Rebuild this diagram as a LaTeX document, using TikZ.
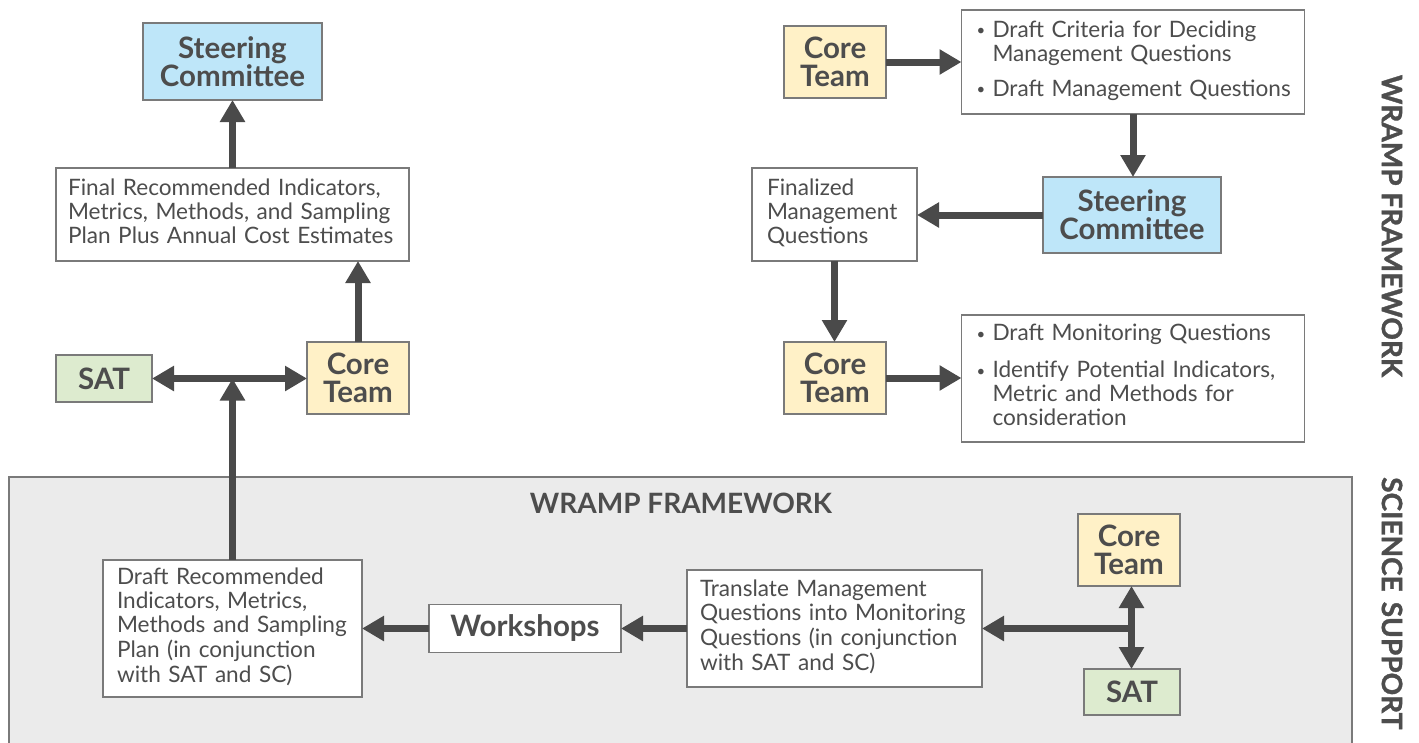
\documentclass[tikz,border=0pt]{standalone}
\usepackage{fontspec}
\setmainfont{Lato}
\usetikzlibrary{arrows.meta}
\definecolor{txt}{HTML}{4D4D4D}
\definecolor{arrc}{HTML}{4A4A4A}
\definecolor{bord}{HTML}{7A7A7A}
\definecolor{blu}{HTML}{BEE6F9}
\definecolor{yel}{HTML}{FFF1C7}
\definecolor{grn}{HTML}{DDEBCF}
\definecolor{bgg}{HTML}{EBEBEB}
\newcommand\tl[1]{\begin{tabular}{@{}l@{}}#1\end{tabular}}
\newcommand\bu{\makebox[17pt][l]{\hspace{1pt}\raisebox{1.5pt}{\fontsize{15}{15}\selectfont •}}}
\begin{document}
\begin{tikzpicture}[x=1pt,y=-1pt,
  font=\fontsize{22.6}{24}\selectfont, text=txt,
  box/.style={draw=bord, line width=1.2pt, fill=white, inner sep=0pt, outer sep=0pt},
  tbox/.style={box, align=left},
  who/.style={box, font=\bfseries\fontsize{29.5}{28}\selectfont, align=center},
  arr/.style={draw=arrc, line width=7pt, -{Triangle[length=22pt,width=24pt]}},
  dbl/.style={draw=arrc, line width=7pt, {Triangle[length=22pt,width=24pt]}-{Triangle[length=22pt,width=24pt]}},
  vlabel/.style={font=\bfseries\fontsize{28}{28}\selectfont\addfontfeature{FakeBold=1.2}, inner sep=0pt, rotate=-90}]
\useasboundingbox (0,0) rectangle (1419,742);
\fill[white] (0,0) rectangle (1419,742);

% science support region
\node[draw=bord, line width=1.2pt, fill=bgg, inner sep=0pt, outer sep=0pt,
      minimum width=1343pt, minimum height=290pt, anchor=north west] (ss) at (9,477) {};
\node[font=\bfseries\fontsize{28}{28}\selectfont, anchor=base, inner sep=0pt] (wt) at (681,513) {WRAMP FRAMEWORK};

% left column
\node[who, fill=blu, minimum width=179pt, minimum height=77pt] (scL) at (232.5,61.5) {Steering\\Committee};
\node[tbox, text width=329pt, inner xsep=12pt, minimum height=93pt] (finL) at (232.5,214.5)
  {\tl{Final Recommended Indicators,\\Metrics, Methods, and Sampling\\Plan Plus Annual Cost Estimates}};
\node[who, fill=yel, minimum width=102pt, minimum height=72pt] (coreL) at (358,378) {Core\\Team};
\node[who, fill=grn, minimum width=96pt, minimum height=47pt] (satL) at (104,378.5) {SAT};

% top right
\node[who, fill=yel, minimum width=102pt, minimum height=72pt] (coreT1) at (835,62) {Core\\Team};
\node[tbox, text width=315pt, inner xsep=14pt, minimum height=104pt] (bul1) at (1133,62)
  {\begin{tabular}{@{}l@{}l@{}}\bu & Draft Criteria for Deciding\\ & Management Questions\\[11pt]
   \bu & Draft Management Questions\end{tabular}};
\node[who, fill=blu, minimum width=178pt, minimum height=76pt] (scR) at (1132,215) {Steering\\Committee};
\node[tbox, text width=135pt, inner xsep=15pt, minimum height=93pt] (fin2) at (834.5,214.5)
  {\tl{Finalized\\Management\\Questions}};
\node[who, fill=yel, minimum width=102pt, minimum height=72pt] (coreT2) at (835,378) {Core\\Team};
\node[tbox, text width=315pt, inner xsep=14pt, minimum height=127pt] (bul2) at (1133,378.5)
  {\begin{tabular}{@{}l@{}l@{}}\bu & Draft Monitoring Questions\\[13pt]
   \bu & Identify Potential Indicators,\\ & Metric and Methods for\\ & consideration\end{tabular}};

% bottom region
\node[tbox, text width=231pt, inner xsep=14pt, minimum height=137pt] (draft) at (232.5,628.5)
  {\tl{Draft Recommended\\Indicators, Metrics,\\Methods and Sampling\\Plan (in conjunction\\with SAT and SC)}};
\node[who, minimum width=192pt, minimum height=48pt] (work) at (525,628.5) {Workshops};
\node[tbox, text width=269pt, inner xsep=13pt, minimum height=117pt] (trans) at (834.5,628.5)
  {\tl{Translate Management\\Questions into Monitoring\\Questions (in conjunction\\with SAT and SC)}};
\node[who, fill=yel, minimum width=102pt, minimum height=72pt] (coreB) at (1129,550) {Core\\Team};
\node[who, fill=grn, minimum width=96pt, minimum height=46pt] (satB) at (1132,692) {SAT};
\coordinate (J) at (1131.5,628.5);

% side labels
\node[vlabel] (lw) at (1392,226) {WRAMP FRAMEWORK};
\node[vlabel, anchor=west] (lss) at (1392,477) {SCIENCE\hspace{10pt}SUPPORT};

% connectors
\draw[arr] (finL.north) -- (scL.south);
\draw[arr] (coreL.north) -- (coreL.north |- finL.south);
\draw[dbl] (satL.east) -- (coreL.west |- satL.east);
\draw[arr] (draft.north) -- (draft.north |- satL.east);

\draw[arr] (coreT1.east) -- (bul1.west |- coreT1.east);
\draw[arr] (bul1.south) -- (bul1.south |- scR.north);
\draw[arr] (scR.west) -- (fin2.east |- scR.west);
\draw[arr] (fin2.south) -- (fin2.south |- coreT2.north);
\draw[arr] (coreT2.east) -- (bul2.west |- coreT2.east);

\draw[arr] (J) -- (J -| trans.east);
\draw[dbl] (J |- coreB.south) -- (J |- satB.north);
\draw[arr] (trans.west) -- (work.east);
\draw[arr] (work.west) -- (draft.east);
\end{tikzpicture}
\end{document}
